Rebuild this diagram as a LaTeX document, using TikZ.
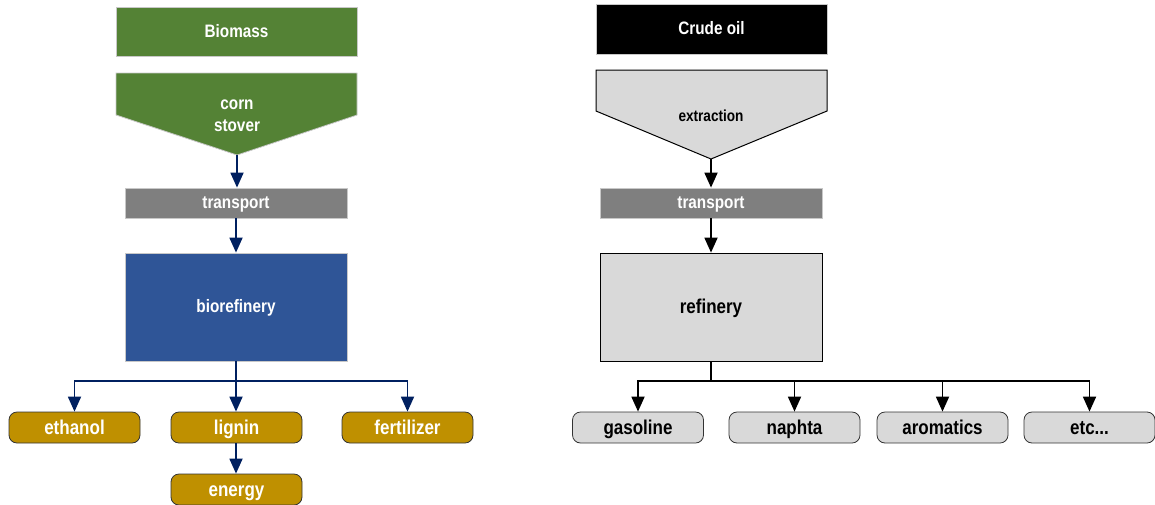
\documentclass[tikz,border=0pt]{standalone}
\usepackage{fontspec}
\setmainfont{Liberation Sans}[FakeStretch=0.85]
\usetikzlibrary{arrows.meta}
\definecolor{bgreen}{HTML}{548235}
\definecolor{bgray}{HTML}{7F7F7F}
\definecolor{bblue}{HTML}{2F5597}
\definecolor{bgold}{HTML}{BF9000}
\definecolor{lgray}{HTML}{D9D9D9}
\definecolor{navy}{HTML}{002060}
\definecolor{edgegray}{HTML}{C8C8C8}
\tikzset{
  box/.style={rectangle, inner sep=0pt, draw=edgegray, line width=0.8pt, text=white, font=\bfseries\fontsize{18}{20}\selectfont, text height=14.5pt, text depth=3.5pt},
  prodg/.style={rectangle, rounded corners=8pt, inner sep=0pt, minimum width=131pt, minimum height=31pt, fill=bgold, draw=black!80, line width=0.8pt, text=white, font=\bfseries\fontsize{20}{22}\selectfont, text height=16pt, text depth=3pt},
  prodr/.style={rectangle, rounded corners=8pt, inner sep=0pt, minimum width=131pt, minimum height=31pt, fill=lgray, draw=black!80, line width=0.8pt, text=black, font=\bfseries\fontsize{20}{22}\selectfont, text height=16pt, text depth=3pt},
  narr/.style={draw=navy, line width=1.8pt, -{Triangle[length=15pt,width=13pt]}},
  narrl/.style={draw=navy, line width=1.8pt},
  karr/.style={draw=black, line width=1.8pt, -{Triangle[length=15pt,width=13pt]}},
  karrl/.style={draw=black, line width=1.8pt},
  lbl/.style={inner sep=0pt, align=center},
}
\begin{document}
\begin{tikzpicture}[x=1pt,y=-1pt]
\useasboundingbox (0,0) rectangle (1155,504);
% ---------- left: biomass ----------
\node[box, fill=bgreen, minimum width=241pt, minimum height=49pt] (biomass) at (236.5,31.5) {Biomass};
\fill[bgreen, draw=edgegray, line width=0.8pt] (116,73) -- (357,73) -- (357,115) -- (237,155) -- (116,115) -- cycle;
\node[lbl, text=white, font=\bfseries\fontsize{18}{22}\selectfont] (corn) at (237,115.5) {corn\\stover};
\coordinate (ctip) at (237,155);
\node[box, fill=bgray, minimum width=222pt, minimum height=30pt] (ltrans) at (236,203) {transport};
\node[box, fill=bblue, minimum width=222pt, minimum height=108pt] (bioref) at (236,307) {biorefinery};
\node[prodg] (ethanol) at (74.5,427.5) {ethanol};
\node[prodg] (lignin) at (236.5,427.5) {lignin};
\node[prodg] (fert) at (407.5,427.5) {fertilizer};
\node[prodg] (energy) at (236.5,489.5) {energy};
\coordinate (lj) at (236,381);
\draw[narr] (ctip) -- (ltrans.north -| ctip);
\draw[narr] (ltrans.south) -- (bioref.north);
\draw[narrl] (bioref.south) -- (lj);
\draw[narr] (lj) -| (ethanol.north);
\draw[narr] (lj) -| (fert.north);
\draw[narr] (lj) -- (lignin.north -| lj);
\draw[narr] (lignin.south -| lj) -- (energy.north -| lj);
% ---------- right: crude oil ----------
\node[box, fill=black, minimum width=231pt, minimum height=50pt] (crude) at (711.5,29) {Crude oil};
\fill[lgray, draw=black, line width=1pt] (596,70) -- (827,70) -- (827,111) -- (711,159) -- (596,111) -- cycle;
\node[lbl, text=black, font=\bfseries\fontsize{16}{20}\selectfont] (extr) at (711,115.5) {extraction};
\coordinate (etip) at (711,159);
\node[box, fill=bgray, minimum width=222pt, minimum height=30pt] (rtrans) at (711,203) {transport};
\node[box, fill=lgray, draw=black, text=black, minimum width=222pt, minimum height=108pt, font=\bfseries\fontsize{20}{22}\selectfont, text height=16pt, text depth=3pt] (refin) at (711,307) {refinery};
\node[prodr] (gas) at (638,427.5) {gasoline};
\node[prodr] (naph) at (794.5,427.5) {naphta};
\node[prodr] (arom) at (942.5,427.5) {aromatics};
\node[prodr] (etc) at (1089.5,427.5) {etc...};
\coordinate (rj) at (711,381);
\draw[karr] (etip) -- (rtrans.north -| etip);
\draw[karr] (rtrans.south) -- (refin.north);
\draw[karrl] (refin.south) -- (rj);
\draw[karr] (rj) -| (gas.north);
\draw[karr] (rj) -| (naph.north);
\draw[karr] (rj) -| (arom.north);
\draw[karr] (rj) -| (etc.north);
\end{tikzpicture}
\end{document}
